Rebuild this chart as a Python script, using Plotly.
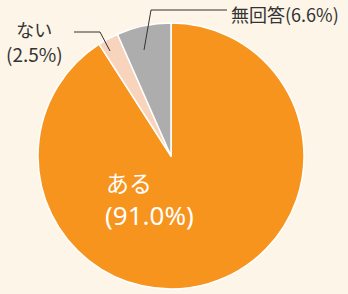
import plotly.graph_objects as go

labels = ["ある", "ない", "無回答"]
values = [91.0, 2.5, 6.6]
colors = ["#F7941D", "#F8D4BC", "#ADADAD"]

W, H = 348, 294
FONT = "Noto Sans CJK JP"

fig = go.Figure(go.Pie(
    labels=labels, values=values, sort=False, direction="clockwise", rotation=0,
    marker=dict(colors=colors, line=dict(color="white", width=1.5)),
    textinfo="none", hoverinfo="label+percent", showlegend=False,
    domain=dict(x=[38/W, 304/W], y=[5/H, 271/H]),
))

def px(x, y):
    return x / W, 1 - y / H

sub_text = (f"<span style='font-size:18px'>{labels[1]}</span><br>"
            f"<span style='font-size:19px'>({values[1]:.1f}%)</span>")

anns = [
    dict(x=105, y=182, text=labels[0], size=23, color="white", xanchor="left", family=FONT),
    dict(x=104, y=215, text=f"({values[0]:.1f}%)", size=26, color="white", xanchor="left", family="Noto Sans"),
    dict(x=230, y=14, text=f"{labels[2]}({values[2]:.1f}%)", size=18, color="#333333", xanchor="left", family=FONT),
    dict(x=34, y=41, text=sub_text, size=19, color="#333333", xanchor="center", family=FONT),
]
annotations = []
for a in anns:
    x, y = px(a["x"], a["y"])
    annotations.append(dict(x=x, y=y, xref="paper", yref="paper", text=a["text"], showarrow=False,
                            xanchor=a["xanchor"], yanchor="middle", align="left" if a["xanchor"] == "left" else "center",
                            borderpad=0,
                            font=dict(family=a["family"], size=a["size"], color=a["color"])))

shapes = []
def path(points):
    d = "M " + " L ".join(f"{x/W},{1-y/H}" for x, y in points)
    shapes.append(dict(type="path", path=d, xref="paper", yref="paper",
                       line=dict(color="#333333", width=1)))

path([(144, 50), (151, 10), (227, 10)])
path([(110, 51), (100, 32), (74, 32)])

fig.update_layout(
    width=W, height=H, margin=dict(l=0, r=0, t=0, b=0),
    paper_bgcolor="#FDF5E8", plot_bgcolor="#FDF5E8",
    annotations=annotations, shapes=shapes,
)
fig.write_html("out.html")
